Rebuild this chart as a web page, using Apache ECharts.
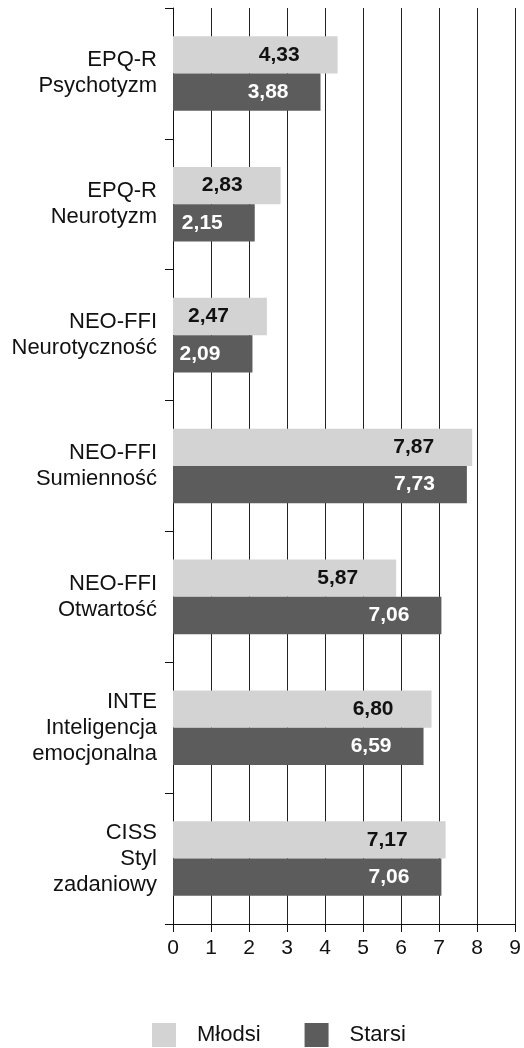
<!DOCTYPE html>
<html>
<head>
<meta charset="utf-8">
<script src="https://cdn.jsdelivr.net/npm/echarts@6/dist/echarts.min.js"></script>
<style>
  html, body { margin: 0; padding: 0; background: #fff; }
  #chart { width: 524px; height: 1048px; }
</style>
</head>
<body>
<div id="chart"></div>
<script>
// Scale categories (top to bottom)
const categories = [
  'EPQ-R\nPsychotyzm',
  'EPQ-R\nNeurotyzm',
  'NEO-FFI\nNeurotyczność',
  'NEO-FFI\nSumienność',
  'NEO-FFI\nOtwartość',
  'INTE\nInteligencja\nemocjonalna',
  'CISS\nStyl\nzadaniowy'
];
// Mean scores per age group
const mlodsi = [4.33, 2.83, 2.47, 7.87, 5.87, 6.80, 7.17];
const starsi = [3.88, 2.15, 2.09, 7.73, 7.06, 6.59, 7.06];
const seriesNames = ['Młodsi', 'Starsi'];
const xTicks = [0, 1, 2, 3, 4, 5, 6, 7, 8, 9];

const FONT = '"Liberation Sans", Arial, sans-serif';
const fmt = p => p.value.toFixed(2).replace('.', ',');

const chart = echarts.init(document.getElementById('chart'));
chart.setOption({
  animation: false,
  textStyle: { fontFamily: FONT },
  grid: { left: 173, right: 6, top: 8, bottom: 124, containLabel: false },
  legend: {
    top: 1023,
    left: 152,
    itemWidth: 24,
    itemHeight: 24,
    itemGap: 44,
    padding: 0,
    icon: 'rect',
    textStyle: { fontSize: 22, color: '#111', fontFamily: FONT, padding: [0, 0, 0, 16] },
    data: seriesNames
  },
  xAxis: {
    type: 'value',
    min: xTicks[0],
    max: xTicks[xTicks.length - 1],
    interval: 1,
    axisLine: { show: true, lineStyle: { color: '#111', width: 1 } },
    axisTick: { show: true, length: 8, lineStyle: { color: '#111' } },
    axisLabel: { fontSize: 21, color: '#111', margin: 14, fontFamily: FONT },
    splitLine: { show: true, lineStyle: { color: '#222', width: 1 } }
  },
  yAxis: {
    type: 'category',
    inverse: true,
    data: categories,
    axisLine: { show: true, lineStyle: { color: '#111', width: 1 } },
    axisTick: { show: true, length: 8, lineStyle: { color: '#111' } },
    axisLabel: {
      fontSize: 22, lineHeight: 26, color: '#111', margin: 16,
      align: 'right', fontFamily: FONT
    },
    splitLine: { show: false }
  },
  series: [
    {
      name: seriesNames[0],
      type: 'bar',
      data: mlodsi,
      barGap: '0%',
      barCategoryGap: '43%',
      itemStyle: { color: '#d3d3d3' },
      label: {
        show: true, position: 'insideRight', distance: 38,
        formatter: fmt, fontSize: 21, fontWeight: 'bold', color: '#111', fontFamily: FONT
      }
    },
    {
      name: seriesNames[1],
      type: 'bar',
      data: starsi,
      barGap: '0%',
      barCategoryGap: '43%',
      itemStyle: { color: '#5c5c5c' },
      label: {
        show: true, position: 'insideRight', distance: 32,
        formatter: fmt, fontSize: 21, fontWeight: 'bold', color: '#fff', fontFamily: FONT
      }
    }
  ]
});
</script>
</body>
</html>
